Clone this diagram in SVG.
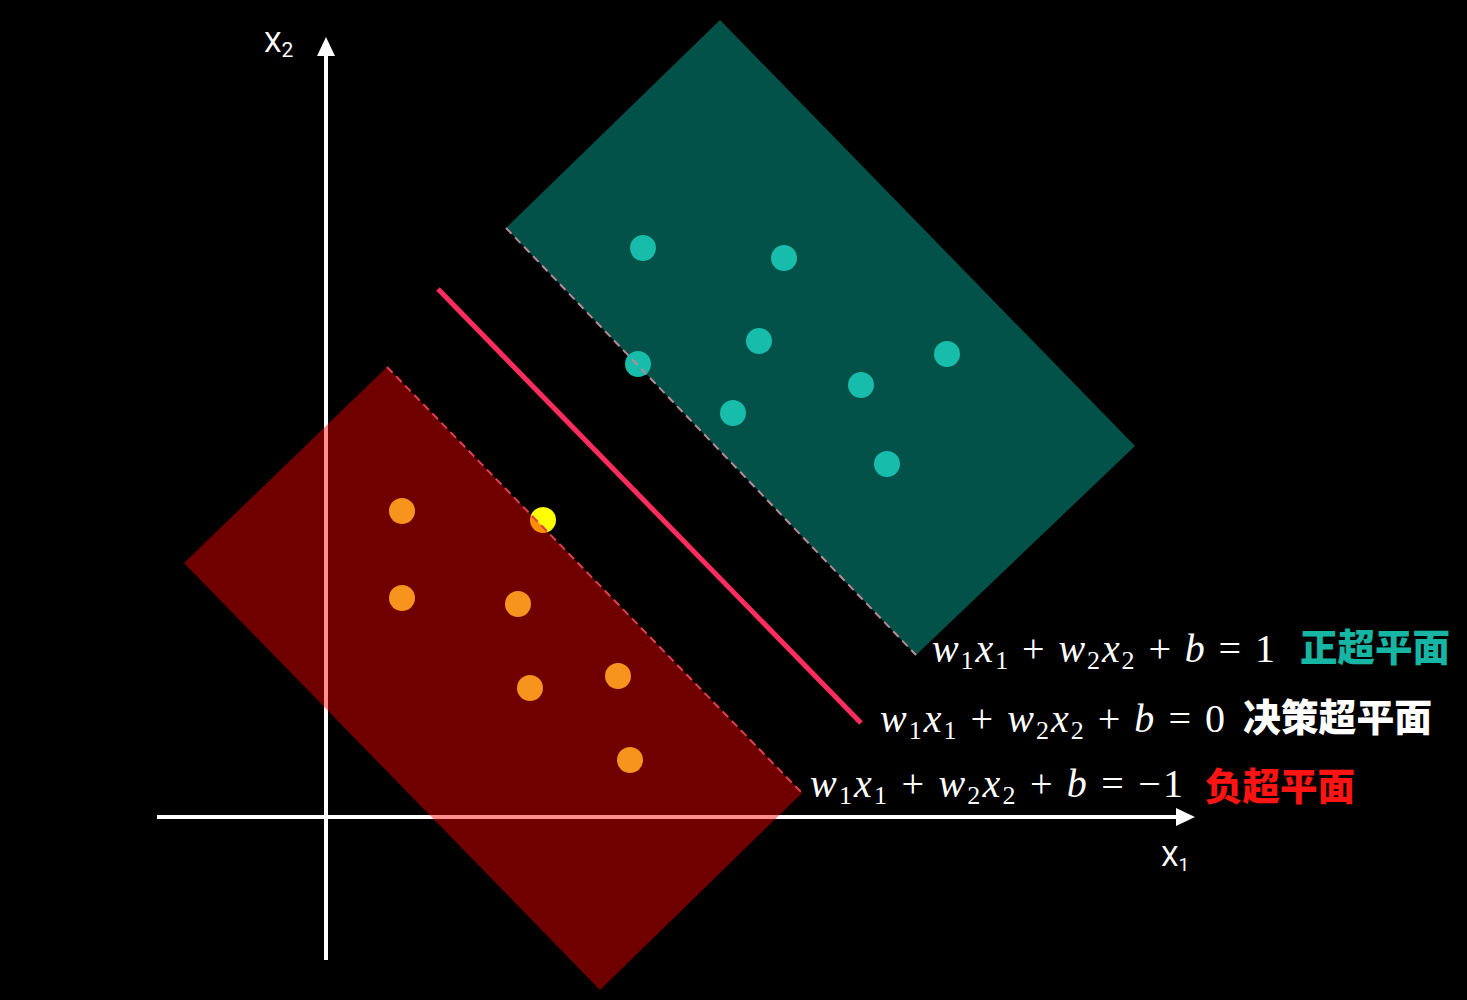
<svg xmlns="http://www.w3.org/2000/svg" width="1467" height="1000" viewBox="0 0 1467 1000">
<defs>
<style>
.axis{stroke:#fff;stroke-width:4;fill:none}
.ah{fill:#fff}
.axlbl{font-family:Roboto,"Liberation Sans",sans-serif;fill:#fff;font-weight:400}
.eq{font-family:"Liberation Serif",serif;font-size:40px;fill:#fff}
.v{font-style:italic}
.sub{font-size:26px}
.cn{font-family:"Noto Sans CJK SC",sans-serif;font-weight:900;font-size:38px}
.tdot{fill:#17bcab}
.odot{fill:#f7941d}
</style>
</defs>
<rect width="1467" height="1000" fill="#000"/>
<g id="axes">
<line class="axis" x1="326" y1="960" x2="326" y2="52"/>
<polygon class="ah" points="326,37 317,56 335,56"/>
<line class="axis" x1="157" y1="817" x2="1180" y2="817"/>
<polygon class="ah" points="1195,817 1176,808 1176,826"/>
<text class="axlbl" x="264" y="52" font-size="28">X<tspan font-size="21" dy="5">2</tspan></text>
<text class="axlbl" x="1161" y="866" font-size="28">X<tspan font-size="19" dy="5">1</tspan></text>
</g>
<g id="yellow-point"><circle cx="543" cy="520" r="13" fill="#ffff00"/></g>
<g id="negative-region">
<polygon points="387,367 802,793 600,990 184,563" fill="#ff0000" fill-opacity="0.44"/>
</g>
<g id="positive-region">
<polygon points="720,20 1135,446 916,655 506,228" fill="#03524a"/>
</g>
<g id="orange-points">
<circle class="odot" cx="402" cy="511" r="13"/>
<circle class="odot" cx="402" cy="598" r="13"/>
<circle class="odot" cx="518" cy="604" r="13"/>
<circle class="odot" cx="530" cy="688" r="13"/>
<circle class="odot" cx="618" cy="676" r="13"/>
<circle class="odot" cx="630" cy="760" r="13"/>
</g>
<g id="teal-points">
<circle class="tdot" cx="643" cy="248" r="13"/>
<circle class="tdot" cx="784" cy="258" r="13"/>
<circle class="tdot" cx="759" cy="341" r="13"/>
<circle class="tdot" cx="638" cy="364" r="13"/>
<circle class="tdot" cx="947" cy="354" r="13"/>
<circle class="tdot" cx="861" cy="385" r="13"/>
<circle class="tdot" cx="733" cy="413" r="13"/>
<circle class="tdot" cx="887" cy="464" r="13"/>
</g>
<g id="connectors">
<line x1="387" y1="367" x2="802" y2="793" stroke="#e0404f" stroke-width="2" stroke-dasharray="8,5"/>
<line x1="506" y1="228" x2="916" y2="655" stroke="#b88a98" stroke-width="2" stroke-dasharray="8,5"/>
<line x1="438" y1="289" x2="861" y2="723" stroke="#ff2d5e" stroke-width="5"/>
</g>
<g id="label-positive">
<text class="eq" x="932" y="662" textLength="343" lengthAdjust="spacing"><tspan class="v">w</tspan><tspan class="sub" dy="7">1</tspan><tspan class="v" dy="-7">x</tspan><tspan class="sub" dy="7">1</tspan><tspan dy="-7"> + </tspan><tspan class="v">w</tspan><tspan class="sub" dy="7">2</tspan><tspan class="v" dy="-7">x</tspan><tspan class="sub" dy="7">2</tspan><tspan dy="-7"> + </tspan><tspan class="v">b</tspan><tspan> = 1</tspan></text>
<text class="cn" x="1300" y="661" fill="#17b5a3" textLength="150" lengthAdjust="spacingAndGlyphs">正超平面</text>
</g>
<g id="label-decision">
<text class="eq" x="880" y="732" textLength="345" lengthAdjust="spacing"><tspan class="v">w</tspan><tspan class="sub" dy="7">1</tspan><tspan class="v" dy="-7">x</tspan><tspan class="sub" dy="7">1</tspan><tspan dy="-7"> + </tspan><tspan class="v">w</tspan><tspan class="sub" dy="7">2</tspan><tspan class="v" dy="-7">x</tspan><tspan class="sub" dy="7">2</tspan><tspan dy="-7"> + </tspan><tspan class="v">b</tspan><tspan> = 0</tspan></text>
<text class="cn" x="1243" y="731" fill="#fff" textLength="189" lengthAdjust="spacingAndGlyphs">决策超平面</text>
</g>
<g id="label-negative">
<text class="eq" x="810" y="797" textLength="373" lengthAdjust="spacing"><tspan class="v">w</tspan><tspan class="sub" dy="7">1</tspan><tspan class="v" dy="-7">x</tspan><tspan class="sub" dy="7">1</tspan><tspan dy="-7"> + </tspan><tspan class="v">w</tspan><tspan class="sub" dy="7">2</tspan><tspan class="v" dy="-7">x</tspan><tspan class="sub" dy="7">2</tspan><tspan dy="-7"> + </tspan><tspan class="v">b</tspan><tspan> = −1</tspan></text>
<text class="cn" x="1205" y="800" fill="#ff1414" textLength="150" lengthAdjust="spacingAndGlyphs">负超平面</text>
</g>
</svg>
